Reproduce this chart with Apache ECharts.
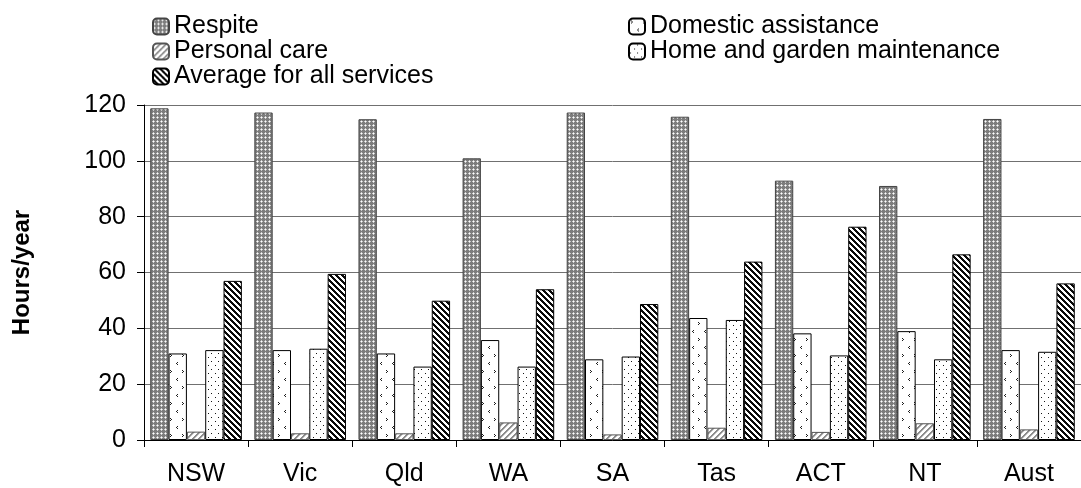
<!DOCTYPE html>
<html><head><meta charset="utf-8">
<script src="https://cdn.jsdelivr.net/npm/echarts@6/dist/echarts.min.js"></script>
<style>html,body{margin:0;padding:0;background:#fff}#c{width:1081px;height:488px}</style>
</head><body><div id="c"></div>
<script>
const categories = ['NSW','Vic','Qld','WA','SA','Tas','ACT','NT','Aust'];
const respite = [118.8,117.3,114.9,100.9,117.3,115.8,92.9,91.0,115.0];
const domestic = [31.0,32.2,31.0,35.8,28.9,43.7,38.2,39.0,32.2];
const personal = [3.0,2.4,2.4,6.3,2.0,4.4,2.9,6.0,3.8];
const home = [32.2,32.7,26.3,26.3,29.9,43.0,30.3,28.9,31.6];
const average = [57.0,59.5,49.9,54.0,48.7,63.9,76.4,66.5,56.1];
const yTicks = {min:0,max:120,interval:20};

function tile(w,h,fn){
  const c=document.createElement('canvas');c.width=w;c.height=h;
  const ctx=c.getContext('2d');const img=ctx.createImageData(w,h);
  for(let y=0;y<h;y++)for(let x=0;x<w;x++){
    const v=fn(x,y);const i=(y*w+x)*4;
    img.data[i]=v;img.data[i+1]=v;img.data[i+2]=v;img.data[i+3]=255;
  }
  ctx.putImageData(img,0,0);return {image:c,repeat:'repeat'};
}
const patRespite = tile(4,4,(x,y)=>{
  if(x===1&&y===1) return 255;
  if((x===0&&y===1)||(x===2&&y===1)||(x===1&&y===0)||(x===1&&y===2)) return 205;
  return 125;
});
const patDomestic = tile(12,16,(x,y)=>{
  const gt=[[2,2],[3,3],[2,4]]; const lt=[[9,10],[8,11],[9,12]];
  for(const p of gt) if(p[0]===x&&p[1]===y) return 30;
  for(const p of lt) if(p[0]===x&&p[1]===y) return 30;
  return 255;
});
const patPersonal = tile(6,6,(x,y)=>{const d=(x+y)%6; return d<2?140:(d<3?200:255);});
const patHome = tile(7,8,(x,y)=>{
  if((x===1&&y===1)||(x===5&&y===5)) return 20;
  return 255;
});
const patAverage = tile(6,6,(x,y)=>{const d=((x-y)%6+6)%6; return d<3?10:255;});

const font = 'Liberation Sans, Arial, sans-serif';
function bar(name,data,pat,border){
  return {name,type:'bar',data,barGap:'0%',barCategoryGap:'12%',
    itemStyle:{color:pat,borderColor:border||'#000',borderWidth:1},
    emphasis:{disabled:true}};
}
const legendText = {fontSize:25,color:'#000',fontFamily:font,lineHeight:22};
const chart = echarts.init(document.getElementById('c'),null,{renderer:'canvas'});
chart.setOption({
  animation:false,
  backgroundColor:'#fff',
  textStyle:{fontFamily:font},
  legend:[
    {left:152,top:14,padding:0,orient:'vertical',itemWidth:16,itemHeight:16,itemGap:0,
     data:['Respite','Personal care','Average for all services'],
     textStyle:legendText,selectedMode:false},
    {left:628,top:14,padding:0,orient:'vertical',itemWidth:16,itemHeight:16,itemGap:0,
     data:['Domestic assistance','Home and garden maintenance'],
     textStyle:legendText,selectedMode:false}
  ],
  grid:{left:144,top:105,width:949,height:335,containLabel:false},
  xAxis:{type:'category',data:categories,
    axisLine:{lineStyle:{color:'#000',width:1}},
    axisTick:{show:true,length:7,lineStyle:{color:'#000'}},
    axisLabel:{fontSize:25,color:'#000',margin:22,fontFamily:font}},
  yAxis:{type:'value',min:yTicks.min,max:yTicks.max,interval:yTicks.interval,
    name:'Hours/year',nameLocation:'middle',nameGap:110,
    nameTextStyle:{fontSize:24,fontWeight:'bold',color:'#000',fontFamily:font},
    axisLine:{show:true,lineStyle:{color:'#000'}},
    axisTick:{show:true,length:7,lineStyle:{color:'#000'}},
    axisLabel:{fontSize:25,color:'#000',margin:18,fontFamily:font},
    splitLine:{show:true,lineStyle:{color:'#707070',width:1}}},
  series:[
    bar('Respite',respite,patRespite,'#444'),
    bar('Domestic assistance',domestic,patDomestic),
    bar('Personal care',personal,patPersonal,'#555'),
    bar('Home and garden maintenance',home,patHome),
    bar('Average for all services',average,patAverage)
  ]
});
</script></body></html>
